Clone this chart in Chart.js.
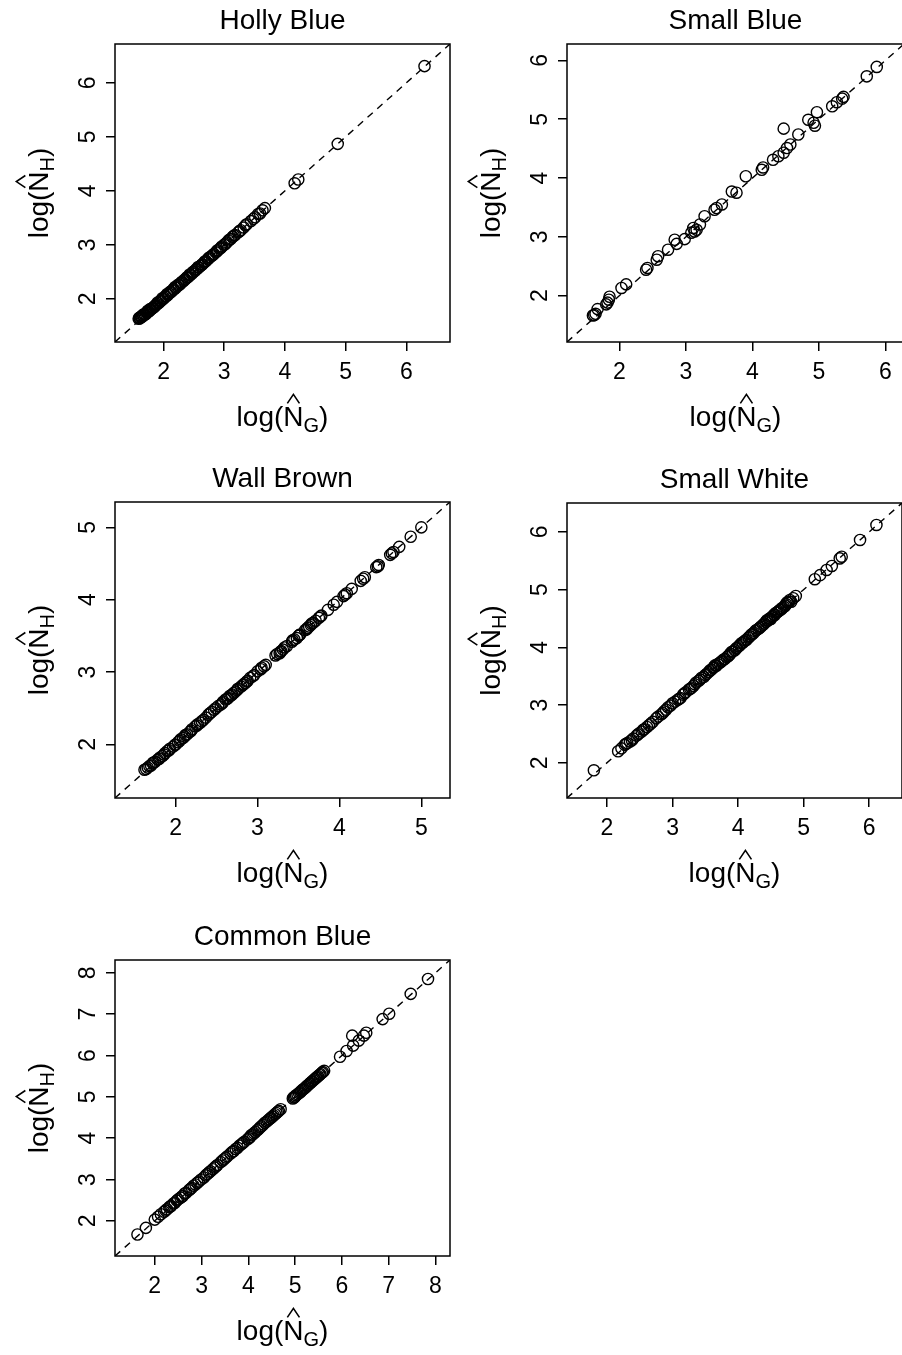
<!DOCTYPE html>
<html>
<head>
<meta charset="utf-8">
<script src="https://cdn.jsdelivr.net/npm/chart.js@4.4.1/dist/chart.umd.min.js"></script>
<style>
  html, body { margin: 0; padding: 0; background: #fff; overflow: hidden; }
  #page { position: relative; width: 902px; height: 1355px; overflow: hidden; background: #fff; }
  canvas { position: absolute; }
</style>
</head>
<body>
<div id="page">
  <canvas id="c1"></canvas>
  <canvas id="c2"></canvas>
  <canvas id="c3"></canvas>
  <canvas id="c4"></canvas>
  <canvas id="c5"></canvas>
</div>
<script>
const FONT = '"Liberation Sans", Arial, Helvetica, sans-serif';

// panel titles
const titles = ['Holly Blue', 'Small Blue', 'Wall Brown', 'Small White', 'Common Blue'];

// tick labels (same on both axes)
const ticksHolly = [2, 3, 4, 5, 6];
const ticksSmallBlue = [2, 3, 4, 5, 6];
const ticksWall = [2, 3, 4, 5];
const ticksSmallWhite = [2, 3, 4, 5, 6];
const ticksCommon = [2, 3, 4, 5, 6, 7, 8];

// axis limits (same on both axes)
const limHolly = [1.2, 6.72];
const limSmallBlue = [1.21, 6.28];
const limWall = [1.26, 5.35];
const limSmallWhite = [1.39, 6.5];
const limCommon = [1.15, 8.31];

// log(N_G) and log(N_H) per species
const hollyG = [1.59,1.61,1.62,1.64,1.65,1.67,1.69,1.71,1.73,1.75,
  1.77,1.79,1.81,1.83,1.85,1.87,1.89,1.92,1.94,1.96,
  1.99,2.01,2.04,2.07,2.09,2.12,2.14,2.17,2.20,2.22,
  2.25,2.28,2.30,2.33,2.36,2.38,2.41,2.44,2.47,2.49,
  2.52,2.55,2.58,2.61,2.64,2.67,2.70,2.73,2.76,2.79,
  2.83,2.86,2.89,2.93,2.96,3.00,3.04,3.07,3.11,3.14,
  3.18,3.23,3.27,3.32,3.37,3.44,3.51,3.59,3.63,3.67,
  4.16,4.22,4.87,6.30,
  1.60,1.63,1.66,1.68,1.72,1.74,1.78,1.82,1.86,1.90,
  1.95,1.98,2.03,2.06,2.11,2.16,2.19,2.24,2.29,2.34,
  2.39,2.43,2.48,2.53,2.57,2.63,2.68,2.74,2.81,2.88,
  2.95,3.02,3.09,3.16,3.25,3.35,3.48,3.56];
const hollyH = [1.63,1.64,1.66,1.66,1.68,1.69,1.71,1.72,1.75,1.76,
  1.78,1.80,1.82,1.84,1.85,1.88,1.90,1.92,1.95,1.97,
  1.99,2.02,2.04,2.07,2.10,2.12,2.15,2.17,2.20,2.23,
  2.25,2.28,2.31,2.33,2.36,2.39,2.41,2.44,2.47,2.50,
  2.52,2.55,2.58,2.61,2.64,2.67,2.70,2.73,2.77,2.79,
  2.83,2.86,2.90,2.93,2.97,3.00,3.04,3.08,3.11,3.15,
  3.18,3.23,3.27,3.32,3.38,3.44,3.51,3.58,3.64,3.68,
  4.14,4.21,4.87,6.31,
  1.65,1.67,1.70,1.72,1.74,1.78,1.81,1.83,1.87,1.93,
  1.96,2.01,2.05,2.09,2.13,2.18,2.22,2.26,2.30,2.35,
  2.40,2.45,2.49,2.54,2.59,2.63,2.69,2.75,2.81,2.88,
  2.95,3.02,3.10,3.17,3.25,3.36,3.48,3.57];

const smallBlueG = [1.60,1.62,1.64,1.67,1.80,1.82,1.84,1.85,2.03,2.10,
  2.40,2.42,2.56,2.58,2.73,2.83,2.86,2.98,3.08,3.11,
  3.13,3.16,3.21,3.28,3.43,3.46,3.54,3.69,3.76,3.90,
  4.14,4.16,4.31,4.39,4.47,4.47,4.52,4.57,4.69,4.84,
  4.92,4.94,4.97,5.20,5.27,5.35,5.37,5.72,5.87];
const smallBlueH = [1.66,1.67,1.69,1.77,1.85,1.88,1.93,1.98,2.13,2.19,
  2.44,2.47,2.61,2.67,2.78,2.95,2.88,2.96,3.07,3.15,
  3.09,3.12,3.21,3.35,3.46,3.49,3.55,3.77,3.75,4.03,
  4.14,4.18,4.31,4.37,4.84,4.43,4.51,4.57,4.74,4.99,
  4.94,4.89,5.12,5.22,5.29,5.35,5.38,5.73,5.89];

const wallG = [1.64,1.66,1.70,1.72,1.75,1.78,1.81,1.84,1.87,1.90,
  1.93,1.97,2.00,2.03,2.06,2.09,2.11,2.14,2.17,2.20,
  2.24,2.27,2.30,2.34,2.37,2.40,2.44,2.49,2.52,2.55,
  2.58,2.61,2.64,2.66,2.69,2.71,2.73,2.76,2.80,2.83,
  2.85,2.88,2.91,2.96,3.00,3.05,3.08,3.10,3.22,3.24,
  3.27,3.29,3.31,3.36,3.42,3.45,3.48,3.50,3.52,3.58,
  3.61,3.65,3.68,3.71,3.75,3.78,3.86,3.93,3.97,4.05,
  4.09,4.15,4.26,4.31,4.45,4.48,4.62,4.66,4.73,4.87,
  5.00,
  1.62,1.68,1.73,1.80,1.86,1.92,1.99,2.05,2.12,2.19,
  2.26,2.32,2.42,2.47,2.57,2.63,2.68,2.75,2.82,2.87,
  2.94,3.04,3.28,3.33,3.43,3.51,3.60,3.63,3.66,3.77,
  4.07,4.29,4.47,4.64];
const wallH = [1.66,1.68,1.71,1.74,1.76,1.79,1.82,1.84,1.88,1.91,
  1.94,1.97,2.00,2.03,2.07,2.09,2.11,2.14,2.17,2.21,
  2.25,2.28,2.30,2.34,2.37,2.41,2.45,2.50,2.53,2.55,
  2.59,2.62,2.64,2.67,2.69,2.71,2.73,2.77,2.80,2.83,
  2.85,2.88,2.92,2.96,3.01,3.06,3.08,3.10,3.23,3.25,
  3.26,3.29,3.31,3.36,3.42,3.45,3.47,3.50,3.52,3.58,
  3.61,3.65,3.68,3.71,3.75,3.78,3.86,3.93,3.97,4.05,
  4.09,4.15,4.26,4.31,4.45,4.48,4.62,4.66,4.73,4.87,
  5.00,
  1.65,1.70,1.75,1.80,1.86,1.92,1.99,2.05,2.13,2.19,
  2.26,2.32,2.43,2.48,2.57,2.63,2.68,2.75,2.82,2.87,
  2.94,3.04,3.28,3.34,3.44,3.51,3.59,3.63,3.67,3.77,
  4.07,4.29,4.46,4.64];

const smallWhiteG = [1.80,2.17,2.22,2.27,2.31,2.35,2.40,2.45,2.49,2.53,
  2.57,2.61,2.64,2.70,2.78,2.83,2.87,2.93,2.97,3.04,
  3.08,3.12,3.16,3.20,3.25,3.29,3.32,3.36,3.40,3.44,
  3.48,3.52,3.55,3.59,3.62,3.65,3.69,3.72,3.76,3.80,
  3.83,3.85,3.88,3.92,3.95,3.98,4.01,4.05,4.09,4.13,
  4.16,4.20,4.24,4.28,4.31,4.35,4.38,4.42,4.45,4.48,
  4.50,4.53,4.56,4.60,4.64,4.67,4.70,4.73,4.76,4.79,
  4.81,4.88,5.17,5.25,5.35,5.43,5.55,5.58,5.86,6.11,
  2.29,2.38,2.47,2.55,2.67,2.75,2.85,2.90,3.00,3.10,
  3.18,3.27,3.34,3.42,3.50,3.57,3.63,3.67,3.74,3.78,
  3.87,3.90,3.97,4.03,4.07,4.11,4.18,4.22,4.26,4.33,
  4.40,4.44,4.47,4.51,4.55,4.58,4.62,4.66,4.72,4.75,
  4.78,4.84];
const smallWhiteH = [1.87,2.20,2.25,2.31,2.34,2.37,2.42,2.47,2.51,2.54,
  2.58,2.62,2.65,2.71,2.80,2.84,2.89,2.96,2.99,3.06,
  3.09,3.12,3.18,3.22,3.27,3.30,3.33,3.39,3.42,3.47,
  3.49,3.54,3.57,3.61,3.64,3.69,3.71,3.73,3.77,3.80,
  3.83,3.85,3.89,3.93,3.95,3.99,4.02,4.07,4.10,4.13,
  4.17,4.22,4.25,4.30,4.32,4.36,4.39,4.44,4.46,4.50,
  4.49,4.54,4.56,4.61,4.65,4.68,4.70,4.75,4.77,4.82,
  4.79,4.89,5.18,5.25,5.34,5.41,5.54,5.57,5.86,6.12,
  2.33,2.39,2.49,2.57,2.68,2.77,2.86,2.92,3.03,3.11,
  3.20,3.28,3.36,3.44,3.52,3.60,3.66,3.68,3.75,3.79,
  3.87,3.92,3.98,4.04,4.08,4.12,4.19,4.23,4.28,4.34,
  4.41,4.47,4.48,4.52,4.57,4.60,4.63,4.66,4.72,4.78,
  4.79,4.85];

const commonG = [1.63,1.81,2.00,2.07,2.13,2.20,2.26,2.31,2.35,2.43,
  2.50,2.55,2.60,2.67,2.73,2.79,2.87,2.94,2.99,3.05,
  3.12,3.19,3.28,3.34,3.41,3.48,3.55,3.62,3.69,3.77,
  3.85,3.91,3.98,4.04,4.09,4.15,4.22,4.28,4.35,4.42,
  4.48,4.54,4.60,4.65,4.69,4.95,4.98,5.02,5.08,5.13,
  5.18,5.23,5.28,5.33,5.39,5.45,5.49,5.54,5.59,5.62,
  5.96,6.10,6.22,6.24,6.36,6.47,6.52,6.87,7.01,7.47,7.84,
  2.23,2.33,2.40,2.47,2.58,2.64,2.76,2.83,2.91,3.09,
  3.16,3.24,3.31,3.45,3.52,3.66,3.73,3.81,3.88,4.01,
  4.06,4.12,4.19,4.25,4.32,4.39,4.45,4.51,4.57,4.63,
  4.97,5.00,5.05,5.11,5.16,5.21,5.26,5.31,5.36,5.42,
  5.47,5.52,5.57];
const commonH = [1.67,1.83,2.03,2.10,2.16,2.22,2.28,2.33,2.36,2.44,
  2.52,2.56,2.60,2.68,2.74,2.80,2.88,2.95,3.00,3.05,
  3.13,3.20,3.29,3.35,3.42,3.49,3.56,3.63,3.69,3.77,
  3.85,3.91,3.97,4.03,4.09,4.15,4.22,4.29,4.37,4.43,
  4.49,4.55,4.61,4.66,4.70,4.96,4.98,5.04,5.09,5.14,
  5.19,5.24,5.29,5.34,5.40,5.46,5.50,5.55,5.60,5.63,
  5.97,6.11,6.48,6.24,6.36,6.48,6.55,6.88,7.01,7.49,7.85,
  2.25,2.35,2.42,2.49,2.59,2.66,2.77,2.85,2.92,3.10,
  3.17,3.25,3.32,3.46,3.53,3.67,3.74,3.82,3.88,4.00,
  4.07,4.12,4.19,4.26,4.33,4.40,4.46,4.52,4.58,4.64,
  4.99,5.01,5.06,5.11,5.17,5.21,5.27,5.32,5.37,5.43,
  5.48,5.53,5.58];

// where each canvas sits and where its plot box goes (page pixels)
const panels = [
  { id: 'c1', title: titles[0], g: hollyG, h: hollyH, ticks: ticksHolly, lim: limHolly,
    cv: { x: 0, y: 0, w: 455, h: 452 }, box: { l: 115, t: 44, r: 450, b: 342 } },
  { id: 'c2', title: titles[1], g: smallBlueG, h: smallBlueH, ticks: ticksSmallBlue, lim: limSmallBlue,
    cv: { x: 452, y: 0, w: 458, h: 452 }, box: { l: 567, t: 44, r: 904, b: 342 } },
  { id: 'c3', title: titles[2], g: wallG, h: wallH, ticks: ticksWall, lim: limWall,
    cv: { x: 0, y: 452, w: 455, h: 452 }, box: { l: 115, t: 502, r: 450, b: 798 } },
  { id: 'c4', title: titles[3], g: smallWhiteG, h: smallWhiteH, ticks: ticksSmallWhite, lim: limSmallWhite,
    cv: { x: 452, y: 452, w: 458, h: 452 }, box: { l: 567, t: 503, r: 902, b: 798 } },
  { id: 'c5', title: titles[4], g: commonG, h: commonH, ticks: ticksCommon, lim: limCommon,
    cv: { x: 0, y: 904, w: 455, h: 451 }, box: { l: 115, t: 960, r: 450, b: 1256 } }
];

// log(N^_G) style label: hat over N plus subscript
function drawAxisLabel(ctx, cx, cy, sub, vertical) {
  const F = 28, S = 20;
  ctx.save();
  ctx.translate(cx, cy);
  if (vertical) ctx.rotate(-Math.PI / 2);
  ctx.textAlign = 'left';
  ctx.textBaseline = 'alphabetic';
  ctx.fillStyle = '#000';
  ctx.strokeStyle = '#000';
  ctx.font = F + 'px ' + FONT;
  const w1 = ctx.measureText('log(').width;
  const wN = ctx.measureText('N').width;
  const wP = ctx.measureText(')').width;
  ctx.font = S + 'px ' + FONT;
  const wS = ctx.measureText(sub).width;
  let x = -(w1 + wN + wS + wP) / 2;
  const base = F * 0.3;
  ctx.font = F + 'px ' + FONT;
  ctx.fillText('log(', x, base);
  x += w1;
  ctx.fillText('N', x, base);
  const top = base - F * 0.716;
  ctx.lineWidth = 1.6;
  ctx.beginPath();
  ctx.moveTo(x + wN * 0.2, top - 3);
  ctx.lineTo(x + wN * 0.5, top - 12);
  ctx.lineTo(x + wN * 0.8, top - 3);
  ctx.stroke();
  x += wN;
  ctx.font = S + 'px ' + FONT;
  ctx.fillText(sub, x, base + F * 0.2);
  x += wS;
  ctx.font = F + 'px ' + FONT;
  ctx.fillText(')', x, base);
  ctx.restore();
}

const framePlugin = {
  id: 'frame',
  afterDraw(chart, args, opts) {
    const { ctx, chartArea: a, scales } = chart;
    ctx.save();
    ctx.strokeStyle = '#000';
    ctx.lineWidth = 1.5;
    ctx.strokeRect(a.left, a.top, a.right - a.left, a.bottom - a.top);

    ctx.fillStyle = '#000';
    ctx.textAlign = 'center';
    ctx.textBaseline = 'middle';
    ctx.font = '28px ' + FONT;
    ctx.fillText(opts.title, (a.left + a.right) / 2, a.top - 23);

    // y tick labels, written along the axis
    ctx.font = '23px ' + FONT;
    scales.y.ticks.forEach(t => {
      const py = scales.y.getPixelForValue(t.value);
      ctx.save();
      ctx.translate(a.left - 26, py);
      ctx.rotate(-Math.PI / 2);
      ctx.fillText(String(t.value), 0, 0);
      ctx.restore();
    });

    drawAxisLabel(ctx, (a.left + a.right) / 2, a.bottom + 76, 'G', false);
    drawAxisLabel(ctx, a.left - 75, (a.top + a.bottom) / 2, 'H', true);
    ctx.restore();
  }
};

function makePanel(p) {
  const cv = document.getElementById(p.id);
  cv.width = p.cv.w;
  cv.height = p.cv.h;
  cv.style.left = p.cv.x + 'px';
  cv.style.top = p.cv.y + 'px';
  cv.style.width = p.cv.w + 'px';
  cv.style.height = p.cv.h + 'px';
  const yW = p.box.l - p.cv.x;
  const xH = p.cv.y + p.cv.h - p.box.b;
  const tickMarks = { drawOnChartArea: false, drawTicks: true, tickLength: 9, color: '#000', lineWidth: 1.5 };

  new Chart(cv, {
    type: 'scatter',
    data: {
      datasets: [
        {
          data: p.g.map((v, i) => ({ x: v, y: p.h[i] })),
          pointStyle: 'circle',
          pointRadius: 5.6,
          pointBorderWidth: 1.4,
          pointBorderColor: '#000',
          pointBackgroundColor: 'rgba(0,0,0,0)',
          showLine: false
        },
        {
          // 1:1 line
          type: 'line',
          data: [{ x: p.lim[0], y: p.lim[0] }, { x: p.lim[1], y: p.lim[1] }],
          borderColor: '#000',
          borderWidth: 1.4,
          borderDash: [7, 6],
          pointRadius: 0,
          fill: false
        }
      ]
    },
    options: {
      responsive: false,
      animation: false,
      devicePixelRatio: 1,
      layout: {
        autoPadding: false,
        padding: { left: 0, top: p.box.t - p.cv.y, right: p.cv.x + p.cv.w - p.box.r, bottom: 0 }
      },
      plugins: {
        legend: { display: false },
        tooltip: { enabled: false },
        frame: { title: p.title }
      },
      scales: {
        x: {
          type: 'linear',
          min: p.lim[0],
          max: p.lim[1],
          afterFit: s => { s.height = xH; },
          afterBuildTicks: s => { s.ticks = p.ticks.map(v => ({ value: v })); },
          grid: tickMarks,
          border: { display: false },
          ticks: { color: '#000', font: { family: FONT, size: 23 }, padding: 8, maxRotation: 0, autoSkip: false }
        },
        y: {
          type: 'linear',
          min: p.lim[0],
          max: p.lim[1],
          afterFit: s => { s.width = yW; },
          afterBuildTicks: s => { s.ticks = p.ticks.map(v => ({ value: v })); },
          grid: tickMarks,
          border: { display: false },
          ticks: { display: false }
        }
      }
    },
    plugins: [framePlugin]
  });
}

panels.forEach(makePanel);
</script>
</body>
</html>
